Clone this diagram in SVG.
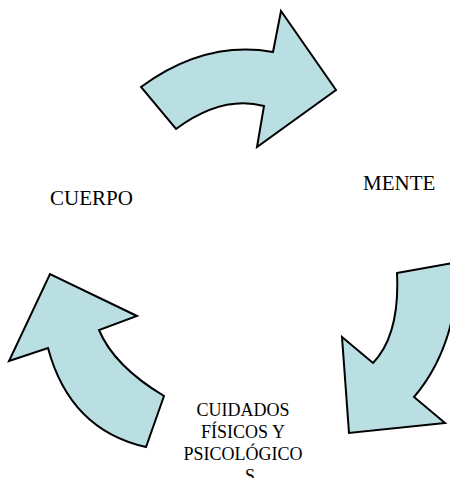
<svg xmlns="http://www.w3.org/2000/svg" width="450" height="478" viewBox="0 0 450 478">
<style>
.arrow{fill:#b9dfe3;stroke:#000;stroke-width:2;stroke-linejoin:miter}
.lbl{font-family:"Liberation Serif","Times New Roman",serif;fill:#000}
.big{font-size:21px}
.small{font-size:18px}
</style>
<rect width="450" height="478" fill="#fff"/>
<g id="connectors">
<path id="arrow-top" class="arrow" d="M141,87 Q205,40 273,52 L281,11 L336,90 L257,147 L264,106 Q222,95 176,129 Z"/>
<path id="arrow-right" class="arrow" d="M397,273 L458,262 Q458,345 414,397 L445,423 L349,433 L342,337 L373,363 Q400,335 397,273 Z"/>
<path id="arrow-left" class="arrow" d="M146,447 Q70,430 48,348 L9,361 L50,274 L137,316 L99,330 Q114,366 164,396 Z"/>
</g>
<g id="node-cuerpo"><text class="lbl big" x="50" y="205">CUERPO</text></g>
<g id="node-mente"><text class="lbl big" x="363" y="190">MENTE</text></g>
<g id="node-cuidados">
<text class="lbl small" text-anchor="middle" x="243" y="416">CUIDADOS</text>
<text class="lbl small" text-anchor="middle" x="243" y="438">FÍSICOS Y</text>
<text class="lbl small" text-anchor="middle" x="243" y="460">PSICOLÓGICO</text>
<text class="lbl small" text-anchor="middle" x="250" y="482">S</text>
</g>
</svg>
